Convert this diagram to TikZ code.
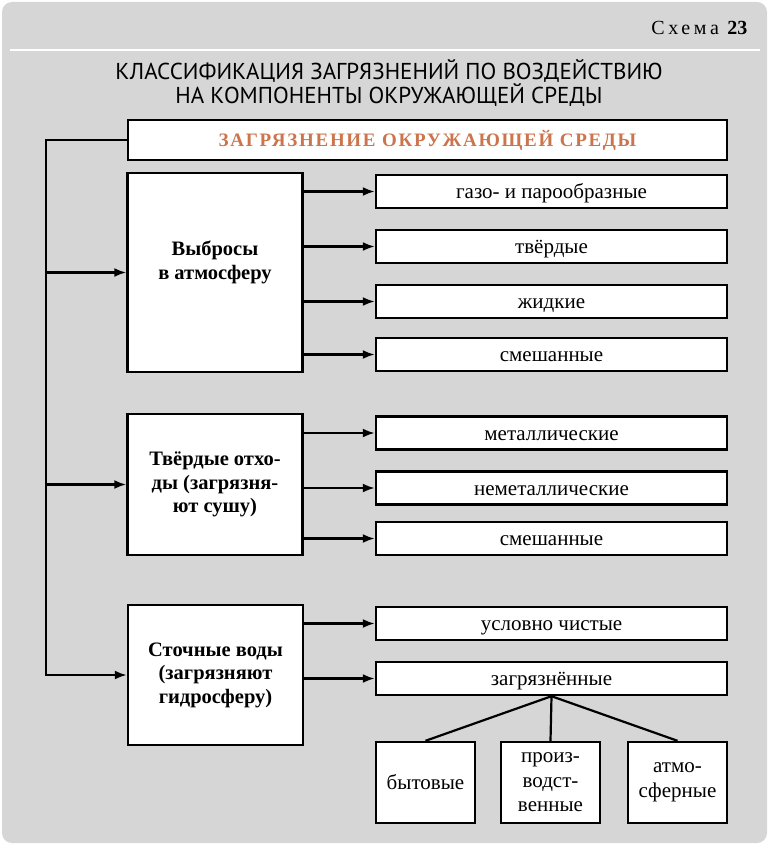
\documentclass[tikz,border=0pt]{standalone}
\usepackage{fontspec}
\setmainfont{Liberation Serif}
\newfontfamily\headfont{PT Sans}
\usetikzlibrary{arrows.meta}
\definecolor{panelgray}{RGB}{214,214,214}
\definecolor{titleorange}{RGB}{204,116,76}
\tikzset{
  box/.style={draw, fill=white, line width=2.4pt, inner sep=0pt},
  srcbox/.style={box, align=center, minimum width=175pt, font=\fontsize{20.5}{23.5}\selectfont\bfseries},
  kindbox/.style={box, minimum width=351pt, minimum height=33pt, text height=15pt, text depth=1pt,
    font=\fontsize{21}{23}\selectfont},
  subbox/.style={box, align=center, minimum width=99pt, minimum height=81pt, font=\fontsize{21}{24.5}\selectfont},
  link/.style={line width=2.2pt, -{Latex[length=12pt,width=9pt]}},
  branch/.style={line width=2.2pt},
}
\begin{document}
\begin{tikzpicture}[x=1pt,y=-1pt]
    \useasboundingbox (0,0) rectangle (770,853);
    \fill[panelgray, rounded corners=10pt] (2,2) rectangle (767,843);
    \draw[white, line width=2pt] (10,50) -- (760,50);
    % header
    \node[anchor=base east, font=\fontsize{20}{22}\selectfont] (scheme) at (751,35)
      {{\addfontfeature{LetterSpace=18}Схема} \textbf{23}};
    \node[align=center, font=\headfont\fontsize{23}{19}\selectfont] (title) at (389,83)
      {КЛАССИФИКАЦИЯ ЗАГРЯЗНЕНИЙ ПО ВОЗДЕЙСТВИЮ\\НА КОМПОНЕНТЫ ОКРУЖАЮЩЕЙ СРЕДЫ};
    \node[box, minimum width=599pt, minimum height=40pt, text=titleorange,
      font=\fontsize{19}{20}\selectfont\bfseries] (main) at (427.5,140)
      {\addfontfeature{LetterSpace=9}ЗАГРЯЗНЕНИЕ ОКРУЖАЮЩЕЙ СРЕДЫ};
    % sources
    \node[srcbox, minimum height=199pt, text depth=25pt] (air) at (215,272.5) {Выбросы\\в атмосферу};
    \node[srcbox, minimum height=141pt] (land) at (215,484.5) {Твёрдые отхо-\\ды (загрязня-\\ют сушу)};
    \node[srcbox, minimum height=140pt] (water) at (215.5,675) {Сточные воды\\(загрязняют\\гидросферу)};
    % kinds
    \node[kindbox] (gas) at (551.5,191.5) {газо- и парообразные};
    \node[kindbox] (hard) at (551.5,246.5) {твёрдые};
    \node[kindbox] (liquid) at (551.5,301.5) {жидкие};
    \node[kindbox] (mixa) at (551.5,354.5) {смешанные};
    \node[kindbox] (metal) at (551.5,433) {металлические};
    \node[kindbox] (nonmetal) at (551.5,488) {неметаллические};
    \node[kindbox] (mixb) at (551.5,538.5) {смешанные};
    \node[kindbox] (clean) at (551.5,623.5) {условно чистые};
    \node[kindbox] (dirty) at (551.5,678.5) {загрязнённые};
    \node[subbox] (home) at (425.5,782.5) {бытовые};
    \node[subbox] (works) at (550.5,782.5) {произ-\\водст-\\венные};
    \node[subbox] (rain) at (677.5,782.5) {атмо-\\сферные};
    % connectors
    \coordinate (trunk) at (46,0);
    \draw[link] (main.west) -| (trunk |- water.west) -- (water.west);
    \foreach \b in {air,land}
      \draw[link] (trunk |- \b.west) -- (\b.west);
    \foreach \k in {gas,hard,liquid,mixa}
      \draw[link] (air.east |- \k.west) -- (\k.west);
    \foreach \k in {metal,nonmetal,mixb}
      \draw[link] (land.east |- \k.west) -- (\k.west);
    \foreach \k in {clean,dirty}
      \draw[link] (water.east |- \k.west) -- (\k.west);
    \foreach \s in {home,works,rain}
      \draw[branch] (dirty.south) -- (\s.north);
\end{tikzpicture}
\end{document}
